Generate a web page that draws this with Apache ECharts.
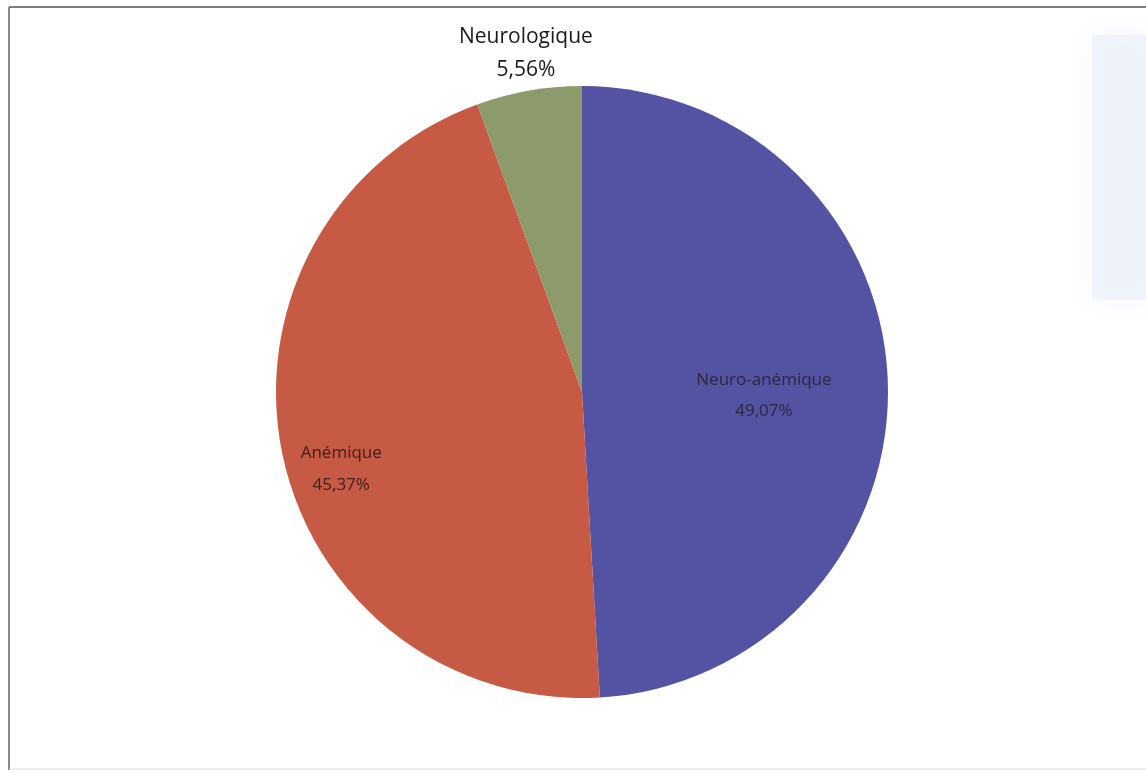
<!DOCTYPE html>
<html>
<head>
<meta charset="utf-8">
<script src="https://cdn.jsdelivr.net/npm/echarts@6/dist/echarts.min.js"></script>
<style>
html, body { margin: 0; padding: 0; background: #fff; }
#main { width: 1146px; height: 772px; }
</style>
</head>
<body>
<div id="main"></div>
<script>
// répartition des formes cliniques
const categories = ['Neuro-anémique', 'Anémique', 'Neurologique']
const values = [49.07, 45.37, 5.56]
const valueLabels = ['49,07%', '45,37%', '5,56%']
const colors = ['#5452a3', '#c65a44', '#8d9a6b']

const labelStyles = [
  { offset: [26, 8], fontSize: 17, lineHeight: 31, color: '#2b2a40' },
  { offset: [-88, 46], fontSize: 17, lineHeight: 32, color: '#3a2220' },
  { offset: [-29, -185], fontSize: 21, lineHeight: 33, color: '#1a1a1a' }
]

const chart = echarts.init(document.getElementById('main'))

const option = {
  backgroundColor: '#fff',
  animation: false,
  graphic: [
    // reflet bleuté du scan
    {
      type: 'rect',
      shape: { x: 1092, y: 35, width: 60, height: 265 },
      style: {
        fill: 'rgba(234,239,249,0.6)',
        shadowBlur: 30,
        shadowColor: 'rgba(234,239,249,0.9)'
      }
    },
    // cadre scanné
    { type: 'line', shape: { x1: 9, y1: 7, x2: 1146, y2: 7 }, style: { stroke: '#555', lineWidth: 1.5 } },
    { type: 'line', shape: { x1: 9, y1: 7, x2: 9, y2: 770 }, style: { stroke: '#666', lineWidth: 1.5 } },
    { type: 'line', shape: { x1: 9, y1: 769, x2: 1146, y2: 769 }, style: { stroke: '#ddd', lineWidth: 1 } }
  ],
  series: [
    {
      type: 'pie',
      center: [582, 392],
      radius: ['0%', 306],
      startAngle: 90,
      clockwise: true,
      silent: true,
      itemStyle: { borderWidth: 0 },
      labelLine: { show: false },
      label: {
        show: true,
        position: 'inside',
        fontFamily: 'Open Sans',
        align: 'center',
        formatter: p => p.name + '\n' + valueLabels[p.dataIndex]
      },
      data: categories.map((name, i) => ({
        name: name,
        value: values[i],
        itemStyle: { color: colors[i] },
        label: labelStyles[i]
      }))
    }
  ]
}

chart.setOption(option)
</script>
</body>
</html>
